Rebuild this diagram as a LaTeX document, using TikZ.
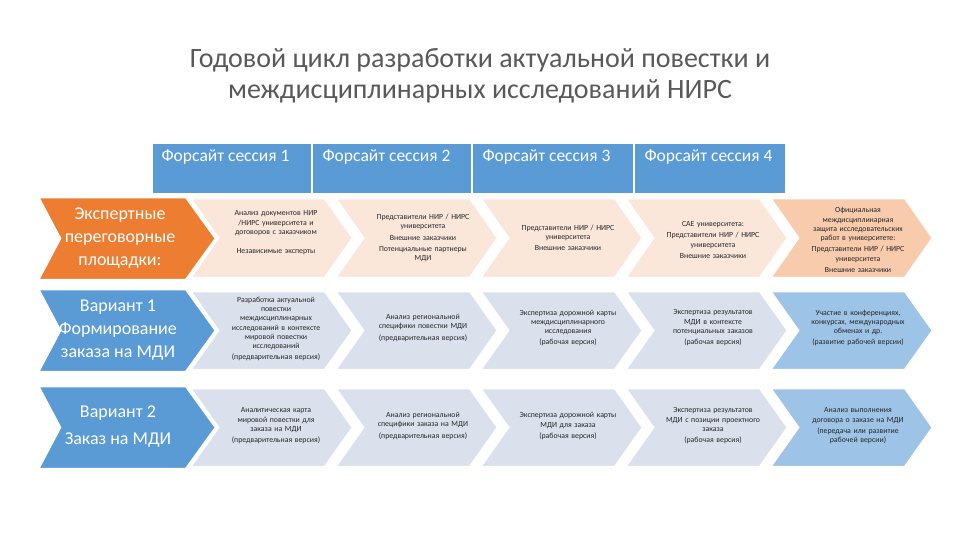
\documentclass[tikz,border=0pt]{standalone}
\usepackage{fontspec}
\setmainfont{Carlito}
\begin{document}
\begin{tikzpicture}[x=1pt,y=-1pt,
  small/.style={font=\fontsize{7.8}{9.3}\selectfont, align=center, text width=130pt, text=black!85},
  big/.style={font=\fontsize{18}{23}\selectfont, align=center, text=white},
  hdr/.style={font=\fontsize{17.5}{20}\selectfont, text=white, anchor=north west},
  sep/.style={draw=white, line width=2.5pt, line join=miter}]
\definecolor{orng}{HTML}{ED7D31}
\definecolor{peach}{HTML}{FBE7DA}
\definecolor{peachd}{HTML}{F8CBAD}
\definecolor{blu}{HTML}{5B9BD5}
\definecolor{grayb}{HTML}{DAE1ED}
\definecolor{blud}{HTML}{9DC3E6}
\useasboundingbox (0,0) rectangle (960,540);
\fill[white] (0,0) rectangle (960,540);
% title
\node[font=\fontsize{28}{31}\selectfont, text=black!65, align=center] (title) at (480,76)
 {Годовой цикл разработки актуальной повестки и\\междисциплинарных исследований НИРС};
% header
\fill[blu] (153,144) rectangle (785,193);
\foreach \a in {312,472,634} \draw[white, line width=1.5pt] (\a,144) -- (\a,193);
\node[hdr] (h1) at (158,146) {Форсайт сессия 1};
\node[hdr] (h2) at (319,146) {Форсайт сессия 2};
\node[hdr] (h3) at (479,146) {Форсайт сессия 3};
\node[hdr] (h4) at (641,146) {Форсайт сессия 4};
\newcommand{\chv}[4]{\path[fill=#4, sep] (#1,#2) -- ++(135,0) -- (#1+163,{(#2+#3)/2}) -- (#1+135,#3) -- (#1,#3) -- (#1+28,{(#2+#3)/2}) -- cycle;}
\newcommand{\lchv}[4]{\path[fill=#4, sep] (#1,#2) -- (#1+148,#2) -- (#1+178,{(#2+#3)/2}) -- (#1+148,#3) -- (#1,#3) -- (#1+22,{(#2+#3)/2}) -- cycle;}
\foreach \i in {0,1,2,3} {
  \chv{190+145*\i}{198}{278}{peach}
  \chv{190+145*\i}{291}{370}{grayb}
  \chv{190+145*\i}{388}{467}{grayb}
}
\chv{770}{198}{278}{peachd}
\chv{770}{291}{370}{blud}
\chv{770}{388}{467}{blud}
\lchv{38}{197}{280}{orng}
\lchv{38}{289}{372}{blu}
\lchv{38}{386}{469}{blu}
\node[big] (l1) at (120,238) {Экспертные\\переговорные\\площадки:};
\node[big] (l2) at (118,330) {Вариант 1\\Формирование\\заказа на МДИ};
\node[big] (l3) at (118,427) {Вариант 2\\[4pt]Заказ на МДИ};
% row 1
\node[small] (a1) at (276,233) {Анализ документов НИР\\/НИРС университета и\\договоров с заказчиком\\[10pt]Независимые эксперты};
\node[small] (a2) at (423,238) {Представители НИР / НИРС\\университета\\[2pt]Внешние заказчики\\[2pt]Потенциальные партнеры\\МДИ};
\node[small] (a3) at (568,238) {Представители НИР / НИРС\\университета\\[2pt]Внешние заказчики};
\node[small] (a4) at (713,240) {САЕ университета:\\[2pt]Представители НИР / НИРС\\университета\\[2pt]Внешние заказчики};
\node[small] (a5) at (858,240) {Официальная\\междисциплинарная\\защита исследовательских\\работ в университете:\\[2pt]Представители НИР / НИРС\\университета\\[2pt]Внешние заказчики};
% row 2
\node[small] (b1) at (276,329) {Разработка актуальной\\повестки\\междисциплинарных\\исследований в контексте\\мировой повестки\\исследований\\[2pt](предварительная версия)};
\node[small] (b2) at (423,328) {Анализ региональной\\специфики повестки МДИ\\[2pt](предварительная версия)};
\node[small] (b3) at (568,328) {Экспертиза дорожной карты\\междисциплинарного\\исследования\\[2pt](рабочая версия)};
\node[small] (b4) at (713,328) {Экспертиза результатов\\МДИ в контексте\\потенциальных заказов\\[2pt](рабочая версия)};
\node[small] (b5) at (858,328) {Участие в конференциях,\\конкурсах, международных\\обменах и др.\\[2pt](развитие рабочей версии)};
% row 3
\node[small] (c1) at (276,426) {Аналитическая карта\\мировой повестки для\\заказа на МДИ\\[2pt](предварительная версия)};
\node[small] (c2) at (423,426) {Анализ региональной\\специфики заказа на МДИ\\[2pt](предварительная версия)};
\node[small] (c3) at (568,426) {Экспертиза дорожной карты\\МДИ для заказа\\[2pt](рабочая версия)};
\node[small] (c4) at (713,426) {Экспертиза результатов\\МДИ с позиции проектного\\заказа\\[2pt](рабочая версия)};
\node[small] (c5) at (858,426) {Анализ выполнения\\договора о заказе на МДИ\\[2pt](передача или развитие\\рабочей версии)};
\end{tikzpicture}
\end{document}
